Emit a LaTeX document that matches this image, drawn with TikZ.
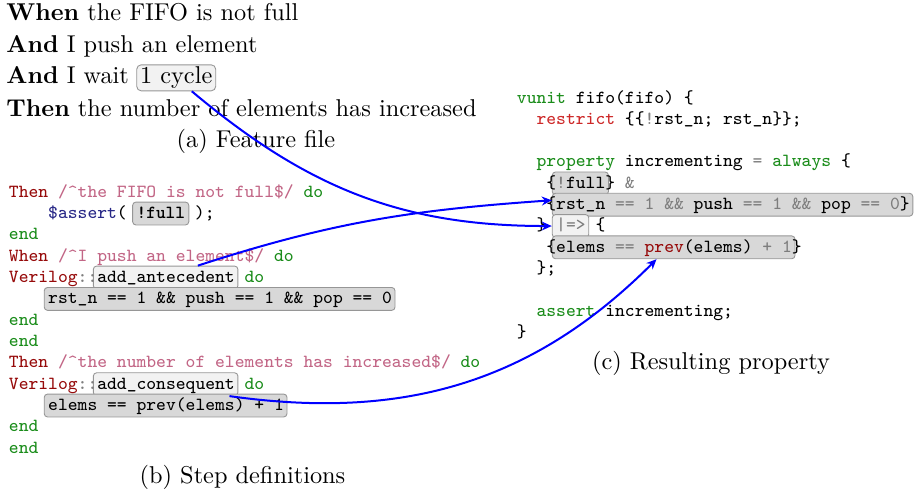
\documentclass[tikz,border=0pt]{standalone}
\usetikzlibrary{arrows.meta}

% syntax colours
\definecolor{kw}{RGB}{150,10,10}
\definecolor{rx}{RGB}{194,102,134}
\definecolor{gr}{RGB}{26,140,26}
\definecolor{rs}{RGB}{205,40,40}
\definecolor{nv}{RGB}{40,40,135}
\definecolor{op}{RGB}{125,125,125}
% boxes and connectors
\definecolor{boxfill}{RGB}{216,216,216}
\definecolor{lightfill}{RGB}{242,242,242}
\definecolor{boxline}{RGB}{150,150,150}
\definecolor{link}{RGB}{0,0,255}

\newlength\cw
\newcommand\mainfnt{\fontsize{10.95pt}{13.6pt}\selectfont}
\newcommand\codefnt{\fontsize{\codept pt}{10pt}\selectfont\ttfamily}
% monospace cell width fixed at 4.419pt
\AtBeginDocument{%
  \settowidth\cw{\fontsize{8pt}{10pt}\selectfont\ttfamily 0}%
  \pgfmathsetmacro\codept{8*4.419/\cw}%
  \settowidth\cw{\codefnt 0}}

\begin{document}
\begin{tikzpicture}[x=0.45pt,y=-0.45pt,
  tx/.style={inner sep=0pt, anchor=base west, font=\mainfnt},
  captxt/.style={inner sep=0pt, anchor=base, font=\mainfnt},
  cd/.style={inner sep=0pt, anchor=base west, font=\codefnt},
  cbox/.style={draw=boxline, fill=boxfill, rounded corners=1.5pt, line width=0.4pt,
    inner xsep=1.6pt, inner ysep=1.2pt, text height=6.1pt, text depth=1.8pt,
    anchor=text, font=\codefnt},
  lbox/.style={cbox, fill=lightfill},
  tagbox/.style={draw=boxline, fill=lightfill, rounded corners=2pt, line width=0.4pt,
    inner xsep=1.5pt, inner ysep=0.9pt, text height=7.5pt, text depth=2.4pt,
    anchor=text, font=\mainfnt},
  arr/.style={draw=link, line width=0.9pt, -{Stealth[length=4.5pt,width=4pt]}}]

\useasboundingbox (0,0) rectangle (920,493);

% ---------------- (a) feature file ----------------
\node[tx] (a1) at (6,20.5) {\textbf{When} the FIFO is not full};
\node[tx] (a2) at (6,52) {\textbf{And} I push an element};
\node[tx] (a3) at (6,83.5) {\textbf{And} I wait};
\node[tagbox] (cyc) at ([xshift=4.8pt]a3.base east) {1 cycle};
\node[tx] (a4) at (6,116) {\textbf{Then} the number of elements has increased};
\node[captxt] (capa) at (256,147) {(a) Feature file};

% ---------------- (b) step definitions ----------------
\coordinate (pb0) at (8.5,197);
\coordinate (pb1) at (8.5,218.3);
\coordinate (pb2) at (8.5,239.7);
\coordinate (pb3) at (8.5,261);
\coordinate (pb4) at (8.5,282.3);
\coordinate (pb5) at (8.5,303.7);
\coordinate (pb6) at (8.5,325);
\coordinate (pb7) at (8.5,346.3);
\coordinate (pb8) at (8.5,367.7);
\coordinate (pb9) at (8.5,389);
\coordinate (pb10) at (8.5,410.3);
\coordinate (pb11) at (8.5,431.7);
\coordinate (pb12) at (8.5,453);

% highlight boxes behind the code
\node[cbox] (bfull) at ([xshift=13*\cw]pb1) {\hspace*{5\cw}};
\node[lbox] (ante) at ([xshift=9*\cw]pb4) {\hspace*{14\cw}};
\node[cbox] (brst) at ([xshift=4*\cw]pb5) {\hspace*{35\cw}};
\node[lbox] (cons) at ([xshift=9*\cw]pb9) {\hspace*{14\cw}};
\node[cbox] (belems) at ([xshift=4*\cw]pb10) {\hspace*{24\cw}};

\node[cd] (lb0) at (pb0) {\textcolor{kw}{Then} \textcolor{rx}{/\textasciicircum the FIFO is not full\$/} \textcolor{gr}{do}};
\node[cd, xshift=4*\cw] (lb1) at (pb1) {\textcolor{nv}{\$assert}( \textbf{!full} );};
\node[cd] (lb2) at (pb2) {\textcolor{gr}{end}};
\node[cd] (lb3) at (pb3) {\textcolor{kw}{When} \textcolor{rx}{/\textasciicircum I push an element\$/} \textcolor{gr}{do}};
\node[cd] (lb4) at (pb4) {\textcolor{kw}{Verilog}\textcolor{op}{::}add\_antecedent \textcolor{gr}{do}};
\node[cd, xshift=4*\cw] (lb5) at (pb5) {rst\_n == 1 \&\& push == 1 \&\& pop == 0};
\node[cd] (lb6) at (pb6) {\textcolor{gr}{end}};
\node[cd] (lb7) at (pb7) {\textcolor{gr}{end}};
\node[cd] (lb8) at (pb8) {\textcolor{kw}{Then} \textcolor{rx}{/\textasciicircum the number of elements has increased\$/} \textcolor{gr}{do}};
\node[cd] (lb9) at (pb9) {\textcolor{kw}{Verilog}\textcolor{op}{::}add\_consequent \textcolor{gr}{do}};
\node[cd, xshift=4*\cw] (lb10) at (pb10) {elems == prev(elems) + 1};
\node[cd] (lb11) at (pb11) {\textcolor{gr}{end}};
\node[cd] (lb12) at (pb12) {\textcolor{gr}{end}};
\node[captxt] (capb) at (242.5,483) {(b) Step definitions};

% ---------------- (c) resulting property ----------------
\coordinate (pc0) at (516.5,103);
\coordinate (pc1) at (516.5,124.3);
\coordinate (pc3) at (516.5,166.9);
\coordinate (pc4) at (516.5,188.2);
\coordinate (pc5) at (516.5,209.5);
\coordinate (pc6) at (516.5,230.8);
\coordinate (pc7) at (516.5,252.1);
\coordinate (pc8) at (516.5,273.4);
\coordinate (pc10) at (516.5,316);
\coordinate (pc11) at (516.5,337.3);

\node[cbox] (cfull) at ([xshift=4*\cw]pc4) {\hspace*{5\cw}};
\node[cbox] (crst) at ([xshift=4*\cw]pc5) {\hspace*{36\cw}};
\node[lbox] (cimp) at ([xshift=4*\cw]pc6) {\hspace*{3\cw}};
\node[cbox] (celems) at ([xshift=4*\cw]pc7) {\hspace*{24\cw}};

\node[cd] (lc0) at (pc0) {\textcolor{gr}{vunit} fifo(fifo) \{};
\node[cd, xshift=2*\cw] (lc1) at (pc1) {\textcolor{rs}{restrict} \{\{\textcolor{op}{!}rst\_n; rst\_n\}\};};
\node[cd, xshift=2*\cw] (lc3) at (pc3) {\textcolor{gr}{property} incrementing \textcolor{op}{=} \textcolor{gr}{always} \{};
\node[cd, xshift=3*\cw] (lc4) at (pc4) {\{\textcolor{op}{!}full\} \textcolor{op}{\&}};
\node[cd, xshift=3*\cw] (lc5) at (pc5) {\{rst\_n \textcolor{op}{== 1 \&\&} push \textcolor{op}{== 1 \&\&} pop \textcolor{op}{== 0}\}};
\node[cd, xshift=2*\cw] (lc6) at (pc6) {\} \textcolor{op}{|=>} \{};
\node[cd, xshift=3*\cw] (lc7) at (pc7) {\{elems \textcolor{op}{==} \textcolor{kw}{prev}(elems) \textcolor{op}{+ 1}\}};
\node[cd, xshift=2*\cw] (lc8) at (pc8) {\};};
\node[cd, xshift=2*\cw] (lc10) at (pc10) {\textcolor{gr}{assert} incrementing;};
\node[cd] (lc11) at (pc11) {\}};
\node[captxt] (capc) at (711,369) {(c) Resulting property};

% ---------------- links ----------------
\draw[arr] ([xshift=7pt]cyc.south) to[out=-40,in=180] (cimp.west);
\draw[arr] ([xshift=14.5pt]ante.north) to[out=18,in=184] ([yshift=2pt]crst.west);
\draw[arr] ([xshift=-4pt]cons.south east) to[out=-8,in=225] ([xshift=-7.7pt]celems.south);

\end{tikzpicture}
\end{document}
